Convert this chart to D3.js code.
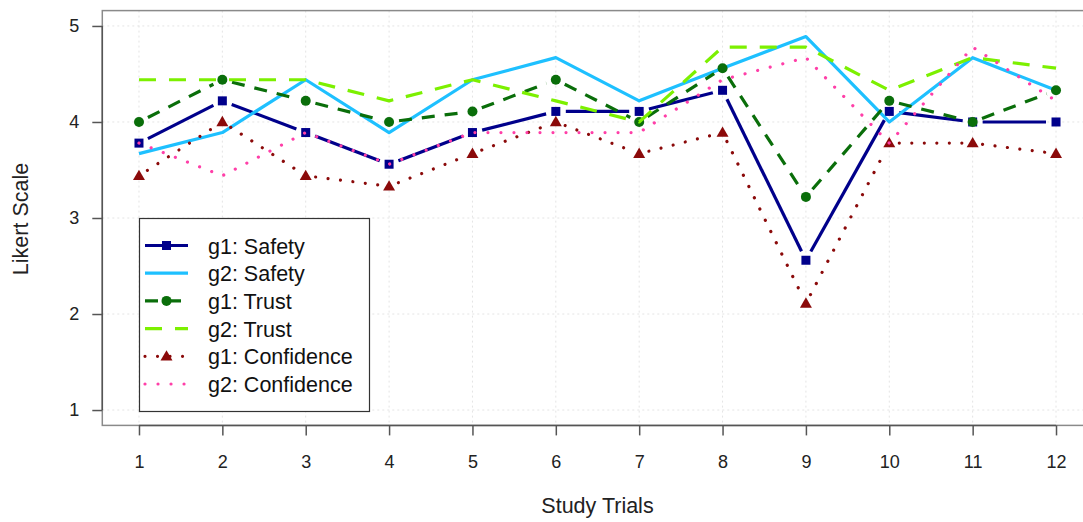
<!DOCTYPE html>
<html>
<head>
<meta charset="utf-8">
<script src="https://cdn.jsdelivr.net/npm/d3@7"></script>
<style>
  html, body { margin: 0; padding: 0; background: #fff; }
  svg { display: block; font-family: "Liberation Sans", Arial, Helvetica, sans-serif; }
</style>
</head>
<body>
<svg id="chart" width="1083" height="522"></svg>
<script>
// Mean Likert ratings per study trial for two groups
const trials = [1, 2, 3, 4, 5, 6, 7, 8, 9, 10, 11, 12];
const g1Safety     = [3.78, 4.22, 3.89, 3.56, 3.89, 4.11, 4.11, 4.33, 2.56, 4.11, 4.00, 4.00];
const g2Safety     = [3.67, 3.89, 4.44, 3.89, 4.44, 4.67, 4.22, 4.56, 4.89, 4.00, 4.67, 4.33];
const g1Trust      = [4.00, 4.44, 4.22, 4.00, 4.11, 4.44, 4.00, 4.56, 3.22, 4.22, 4.00, 4.33];
const g2Trust      = [4.44, 4.44, 4.44, 4.22, 4.44, 4.22, 4.00, 4.78, 4.78, 4.33, 4.67, 4.56];
const g1Confidence = [3.44, 4.00, 3.44, 3.33, 3.67, 4.00, 3.67, 3.89, 2.11, 3.78, 3.78, 3.67];
const g2Confidence = [3.78, 3.44, 3.89, 3.56, 3.89, 3.89, 3.89, 4.44, 4.67, 3.78, 4.78, 4.22];
const yTicks = [1, 2, 3, 4, 5];
const seriesNames = ["g1: Safety", "g2: Safety", "g1: Trust", "g2: Trust", "g1: Confidence", "g2: Confidence"];

const series = [
  { name: seriesNames[0], values: g1Safety,     color: "#00008b", dash: null,        marker: "square" },
  { name: seriesNames[1], values: g2Safety,     color: "#1ec0ff", dash: null,        marker: null },
  { name: seriesNames[2], values: g1Trust,      color: "#0a6e0a", dash: "13 10",     marker: "circle" },
  { name: seriesNames[3], values: g2Trust,      color: "#7cf000", dash: "17 13",     marker: null },
  { name: seriesNames[4], values: g1Confidence, color: "#8b0a0a", dash: "0.01 12.5", marker: "triangle" },
  { name: seriesNames[5], values: g2Confidence, color: "#ff3fa8", dash: "0.01 13",   marker: null }
];

const svg = d3.select("#chart");
const titleSize = 21.5;
const tickSize = 18;

// Plot region with 4% padding around the data range
const x = d3.scaleLinear().domain([0.56, 12.44]).range([102.3, 1092.7]);
const y = d3.scaleLinear().domain([0.84, 5.16]).range([425.4, 10.6]);

// Grid
const grid = svg.append("g").attr("stroke", "#e4e4e4").attr("stroke-width", 1).attr("stroke-dasharray", "2 3");
grid.selectAll("line.v").data(trials).join("line")
  .attr("x1", d => x(d)).attr("x2", d => x(d)).attr("y1", y(5.16)).attr("y2", y(0.84));
grid.selectAll("line.h").data(yTicks).join("line")
  .attr("y1", d => y(d)).attr("y2", d => y(d)).attr("x1", x(0.56)).attr("x2", x(12.44));

// Plot box
svg.append("rect")
  .attr("x", x(0.56)).attr("y", y(5.16))
  .attr("width", x(12.44) - x(0.56)).attr("height", y(0.84) - y(5.16))
  .attr("fill", "none").attr("stroke", "#8a8a8a").attr("stroke-width", 1.5);

// Axes
const xAxis = d3.axisBottom(x).tickValues(trials).tickSize(10).tickPadding(20).tickFormat(d3.format("d"));
const gx = svg.append("g").attr("transform", `translate(0,${y(0.84)})`).call(xAxis);
gx.attr("font-size", tickSize).attr("font-family", null);
gx.select(".domain").attr("d", `M${x(1)},0H${x(12)}`).attr("stroke", "#555").attr("stroke-width", 1.5);
gx.selectAll(".tick line").attr("stroke", "#555").attr("stroke-width", 1.5);
gx.selectAll(".tick text").attr("fill", "#222");

const yAxis = d3.axisLeft(y).tickValues(yTicks).tickSize(10).tickPadding(13).tickFormat(d3.format("d"));
const gy = svg.append("g").attr("transform", `translate(${x(0.56)},0)`).call(yAxis);
gy.attr("font-size", tickSize).attr("font-family", null);
gy.select(".domain").attr("d", `M0,${y(1)}V${y(5)}`).attr("stroke", "#555").attr("stroke-width", 1.5);
gy.selectAll(".tick line").attr("stroke", "#555").attr("stroke-width", 1.5);
gy.selectAll(".tick text").attr("fill", "#222");

// Axis titles
svg.append("text").attr("x", (x(0.56) + x(12.44)) / 2).attr("y", 513)
  .attr("text-anchor", "middle").attr("font-size", titleSize).attr("fill", "#222").text("Study Trials");
svg.append("text").attr("transform", `translate(28,${y(3) + 1}) rotate(-90)`)
  .attr("text-anchor", "middle").attr("font-size", titleSize).attr("fill", "#222").text("Likert Scale");

// Marker drawing
function drawMarker(g, type, cx, cy, color) {
  if (type === "square") {
    g.append("rect").attr("x", cx - 4.5).attr("y", cy - 4.5).attr("width", 9).attr("height", 9).attr("fill", color);
  } else if (type === "circle") {
    g.append("circle").attr("cx", cx).attr("cy", cy).attr("r", 5).attr("fill", color);
  } else if (type === "triangle") {
    const s = d3.symbol().type(d3.symbolTriangle).size(62);
    g.append("path").attr("d", s()).attr("transform", `translate(${cx},${cy + 0.8})`).attr("fill", color);
  }
}

// Series: those with markers have a gap around each point
const gap = 10;
const plot = svg.append("g");
series.forEach(s => {
  const pts = s.values.map((v, i) => [x(trials[i]), y(v)]);
  const g = plot.append("g");
  const style = sel => sel.attr("fill", "none").attr("stroke", s.color).attr("stroke-width", 3.2)
    .attr("stroke-linecap", s.dash && s.dash.startsWith("0.01") ? "round" : "butt")
    .attr("stroke-dasharray", s.dash);
  if (s.marker) {
    for (let i = 0; i < pts.length - 1; i++) {
      const [x0, y0] = pts[i], [x1, y1] = pts[i + 1];
      const len = Math.hypot(x1 - x0, y1 - y0);
      if (len <= 2 * gap) continue;
      const ux = (x1 - x0) / len, uy = (y1 - y0) / len;
      g.append("line").call(style)
        .attr("x1", x0 + ux * gap).attr("y1", y0 + uy * gap)
        .attr("x2", x1 - ux * gap).attr("y2", y1 - uy * gap);
    }
    pts.forEach(p => drawMarker(g, s.marker, p[0], p[1], s.color));
  } else {
    g.append("path").datum(pts).attr("d", d3.line()).call(style).attr("stroke-linejoin", "round");
  }
});

// Legend
const lg = svg.append("g");
lg.append("rect").attr("x", 139.5).attr("y", 218.5).attr("width", 230).attr("height", 193)
  .attr("fill", "#fff").attr("stroke", "#333").attr("stroke-width", 1.2);
series.forEach((s, i) => {
  const cy = 245.5 + i * 27.7;
  const row = lg.append("g");
  const style = sel => sel.attr("fill", "none").attr("stroke", s.color).attr("stroke-width", 3.2)
    .attr("stroke-linecap", s.dash && s.dash.startsWith("0.01") ? "round" : "butt")
    .attr("stroke-dasharray", s.dash);
  row.append("line").call(style).attr("x1", 145).attr("x2", 188).attr("y1", cy).attr("y2", cy);
  if (s.marker) drawMarker(row, s.marker, 166.5, cy, s.color);
  row.append("text").attr("x", 208).attr("y", cy + 8).attr("font-size", titleSize).attr("fill", "#111").text(s.name);
});
</script>
</body>
</html>
